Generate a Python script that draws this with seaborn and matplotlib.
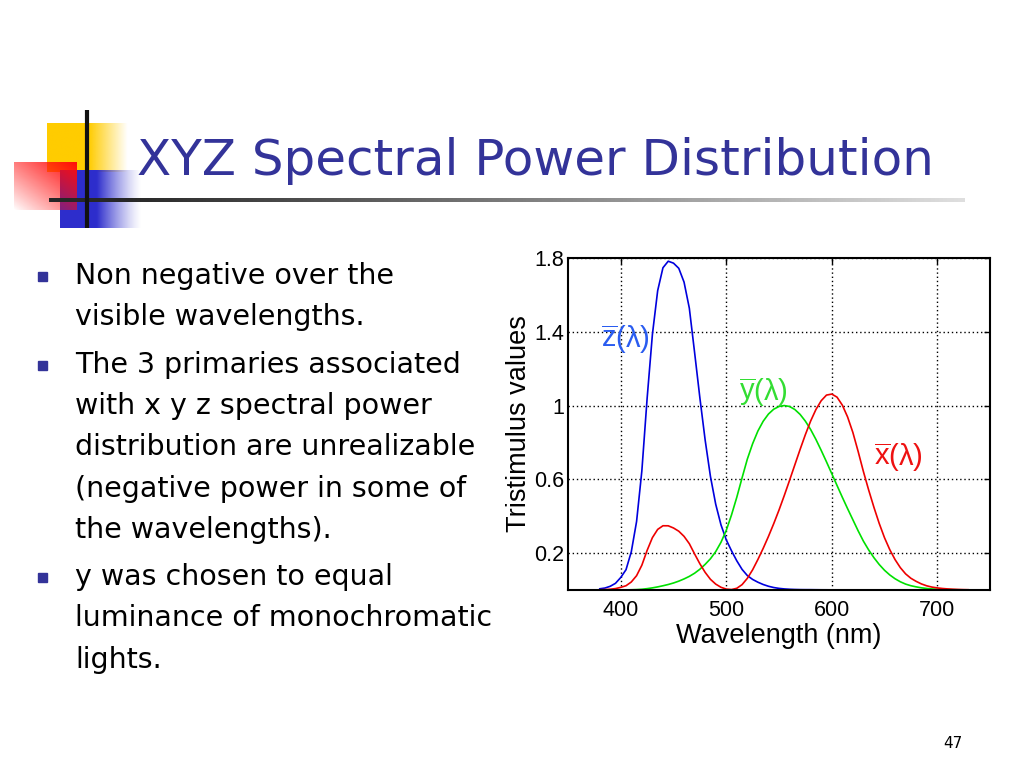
import numpy as np
import pandas as pd
import matplotlib
matplotlib.use("Agg")
import matplotlib.pyplot as plt
import seaborn as sns

# ---- data (CIE-like colour matching functions) ----
wavelength = [380, 385, 390, 395, 400, 405, 410, 415, 420, 425, 430, 435, 440, 445, 450,
              455, 460, 465, 470, 475, 480, 485, 490, 495, 500, 505, 510, 515, 520, 525,
              530, 535, 540, 545, 550, 555, 560, 565, 570, 575, 580, 585, 590, 595, 600,
              605, 610, 615, 620, 625, 630, 635, 640, 645, 650, 655, 660, 665, 670, 675,
              680, 685, 690, 695, 700, 705, 710, 715, 720, 725, 730]
x_bar = [0.0014, 0.0022, 0.0042, 0.0077, 0.0143, 0.0232, 0.0435, 0.0776, 0.1344, 0.2148,
         0.2839, 0.3285, 0.3483, 0.3481, 0.3362, 0.3187, 0.2908, 0.2511, 0.1954, 0.1421,
         0.0956, 0.0580, 0.0320, 0.0147, 0.0049, 0.0024, 0.0093, 0.0291, 0.0633, 0.1096,
         0.1655, 0.2257, 0.2904, 0.3597, 0.4334, 0.5121, 0.5945, 0.6784, 0.7621, 0.8425,
         0.9163, 0.9786, 1.0263, 1.0567, 1.0622, 1.0456, 1.0026, 0.9384, 0.8544, 0.7514,
         0.6424, 0.5419, 0.4479, 0.3608, 0.2835, 0.2187, 0.1649, 0.1212, 0.0874, 0.0636,
         0.0468, 0.0329, 0.0227, 0.0158, 0.0114, 0.0081, 0.0058, 0.0041, 0.0029, 0.0020,
         0.0014]
y_bar = [0.0000, 0.0001, 0.0001, 0.0002, 0.0004, 0.0006, 0.0012, 0.0022, 0.0040, 0.0073,
         0.0116, 0.0168, 0.0230, 0.0298, 0.0380, 0.0480, 0.0600, 0.0739, 0.0910, 0.1126,
         0.1390, 0.1693, 0.2080, 0.2586, 0.3230, 0.4073, 0.5030, 0.6082, 0.7100, 0.7932,
         0.8620, 0.9149, 0.9540, 0.9803, 0.9950, 1.0000, 0.9950, 0.9786, 0.9520, 0.9154,
         0.8700, 0.8163, 0.7570, 0.6949, 0.6310, 0.5668, 0.5030, 0.4412, 0.3810, 0.3210,
         0.2650, 0.2170, 0.1750, 0.1382, 0.1070, 0.0816, 0.0610, 0.0446, 0.0320, 0.0232,
         0.0170, 0.0119, 0.0082, 0.0057, 0.0041, 0.0029, 0.0021, 0.0015, 0.0010, 0.0007,
         0.0005]
z_bar = [0.0065, 0.0106, 0.0201, 0.0362, 0.0679, 0.1102, 0.2074, 0.3713, 0.6456, 1.0391,
         1.3856, 1.6230, 1.7471, 1.7826, 1.7721, 1.7441, 1.6692, 1.5281, 1.2876, 1.0419,
         0.8130, 0.6162, 0.4652, 0.3533, 0.2720, 0.2123, 0.1582, 0.1117, 0.0782, 0.0573,
         0.0422, 0.0298, 0.0203, 0.0134, 0.0088, 0.0058, 0.0039, 0.0028, 0.0021, 0.0018,
         0.0017, 0.0014, 0.0011, 0.0010, 0.0008, 0.0006, 0.0003, 0.0002, 0.0002, 0.0001,
         0.0001, 0.0000, 0.0000, 0.0000, 0.0000, 0.0000, 0.0000, 0.0000, 0.0000, 0.0000,
         0.0000, 0.0000, 0.0000, 0.0000, 0.0000, 0.0000, 0.0000, 0.0000, 0.0000, 0.0000,
         0.0000]

x_ticks = [400, 500, 600, 700]
y_ticks = [0.2, 0.6, 1.0, 1.4, 1.8]
y_tick_labels = ["0.2", "0.6", "1", "1.4", "1.8"]

title = "XYZ Spectral Power Distribution"
bullets = [
    ["Non negative over the", "visible wavelengths."],
    ["The 3 primaries associated", "with x y z spectral power",
     "distribution are unrealizable", "(negative power in some of",
     "the wavelengths)."],
    ["y was chosen to equal", "luminance of monochromatic", "lights."],
]
page_number = "47"

# ---- style ----
sns.set_style("white")
plt.rcParams["font.family"] = ["DejaVu Sans"]
plt.rcParams["text.color"] = "black"
plt.rcParams["axes.labelcolor"] = "black"
plt.rcParams["mathtext.fontset"] = "custom"
plt.rcParams["mathtext.rm"] = "Liberation Sans"
plt.rcParams["mathtext.it"] = "Liberation Sans:italic"
plt.rcParams["mathtext.bf"] = "Liberation Sans:bold"

W, H = 1024, 768
fig = plt.figure(figsize=(W / 100, H / 100), dpi=100)
fig.patch.set_facecolor("white")

# ---- background / slide decoration axes (pixel coordinates) ----
bg = fig.add_axes([0, 0, 1, 1], zorder=0)
bg.set_xlim(0, W)
bg.set_ylim(H, 0)
bg.axis("off")


def grad_rect(x0, x1, y0, y1, rgb, alpha_fn, z):
    nx, ny = 120, 60
    u = np.linspace(0, 1, nx)[None, :].repeat(ny, 0)
    v = np.linspace(0, 1, ny)[:, None].repeat(nx, 1)
    img = np.zeros((ny, nx, 4))
    img[..., 0], img[..., 1], img[..., 2] = rgb
    img[..., 3] = np.clip(alpha_fn(u, v), 0, 1)
    bg.imshow(img, extent=(x0, x1, y1, y0), origin="upper", aspect="auto",
              interpolation="bilinear", zorder=z)


# yellow square (solid then fading right)
grad_rect(47, 128, 123, 172, (1.0, 0.80, 0.0),
          lambda u, v: np.where(u < 0.52, 1.0, 1 - (u - 0.52) / 0.48), 1)
# blue square
grad_rect(60, 142, 170, 228, (0.18, 0.18, 0.80),
          lambda u, v: np.where(u < 0.45, 1.0, (1 - (u - 0.45) / 0.55) ** 1.3), 2)
# red square (strong at top-right, fading to bottom-left)
grad_rect(14, 77, 162, 210, (1.0, 0.05, 0.05),
          lambda u, v: ((u + (1 - v)) / 2) ** 0.9, 3)
# horizontal rule fading to the right
grad_rect(49, 965, 198, 202, (0.15, 0.15, 0.15),
          lambda u, v: np.where(u < 0.08, 1.0, 1 - 0.85 * (u - 0.08) / 0.92), 4)
# vertical black line
bg.plot([87, 87], [110, 228], color="#111111", lw=3, solid_capstyle="butt", zorder=5)

# title
bg.text(137, 161, title, color="#333399", fontsize=36, va="center", ha="left", zorder=6)

# bullets
line_h = 41.3
y = 276
for group in bullets:
    bg.add_patch(plt.Rectangle((38, y - 4), 9, 9, color="#333399", zorder=6))
    for line in group:
        bg.text(75, y, line, fontsize=20.5, color="black", va="center", ha="left", zorder=6)
        y += line_h
    y += 6

bg.text(962, 743, page_number, fontsize=11, ha="right", va="center", color="black")

# ---- chart ----
ax = fig.add_axes([568 / W, 1 - 590 / H, 422 / W, 332 / H], zorder=10)
ax.set_facecolor("white")
df = pd.DataFrame({"wavelength": wavelength, "x": x_bar, "y": y_bar, "z": z_bar})
sns.lineplot(data=df, x="wavelength", y="z", ax=ax, color="#0000dd", lw=1.2)
sns.lineplot(data=df, x="wavelength", y="y", ax=ax, color="#00e000", lw=1.2)
sns.lineplot(data=df, x="wavelength", y="x", ax=ax, color="#ee0000", lw=1.2)

ax.set_xlim(350, 750)
ax.set_ylim(0, 1.8)
ax.set_xticks(x_ticks)
ax.set_xticklabels([str(t) for t in x_ticks])
ax.set_yticks(y_ticks)
ax.set_yticklabels(y_tick_labels)
ax.tick_params(direction="in", length=4, width=1, labelsize=15.5, colors="black",
               top=True, right=True)
ax.tick_params(axis="x", pad=7)
ax.tick_params(axis="y", pad=3)
ax.grid(True, color="black", linestyle=(0, (1, 2)), linewidth=1)
for s in ax.spines.values():
    s.set_color("black")
    s.set_linewidth(1.5)
    s.set_visible(True)
ax.set_xlabel("Wavelength (nm)", fontsize=19.5, family="Liberation Sans", color="black")
ax.set_ylabel("Tristimulus values", fontsize=19.5, family="Liberation Sans", color="black")
ax.xaxis.set_label_coords(0.5, -0.098)
ax.yaxis.set_label_coords(-0.086, 0.5)
for lab in ax.get_xticklabels() + ax.get_yticklabels():
    lab.set_family("Liberation Sans")

ax.text(404, 1.36, r"$\mathrm{\overline{z}(\lambda)}$", color="#2a5cf0", fontsize=21,
        ha="center", va="center")
ax.text(535, 1.07, r"$\mathrm{\overline{y}(\lambda)}$", color="#33dd33", fontsize=21,
        ha="center", va="center")
ax.text(663, 0.72, r"$\mathrm{\overline{x}(\lambda)}$", color="#ee1111", fontsize=21,
        ha="center", va="center")

fig.savefig("out.png", dpi=100, facecolor="white")
